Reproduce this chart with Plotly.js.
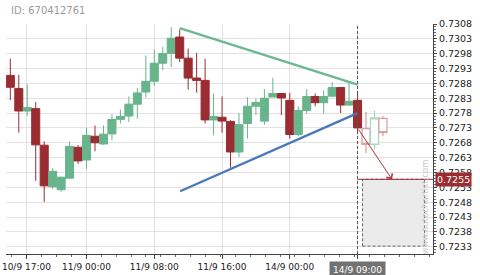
<!DOCTYPE html>
<html>
<head>
<meta charset="utf-8">
<script src="https://cdn.plot.ly/plotly-3.0.1.min.js"></script>
<style>
  html, body { margin: 0; padding: 0; background: #fff; }
  #chart { width: 480px; height: 275px; }
</style>
</head>
<body>
<div id="chart"></div>
<script>
// ---- data (hourly candles, index positions) ----
var candleOpen  = [0.72907,0.72863,0.72787,0.72795,0.72672,0.72532,0.72522,0.72561,0.72665,0.72622,
                   0.72702,0.72676,0.72710,0.72759,0.72770,0.72810,0.72851,0.72887,0.72948,0.72981,
                   0.73036,0.72965,0.72898,0.72890,0.72757,0.72766,0.72752,0.72649,0.72745,0.72803,
                   0.72753,0.72834,0.72846,0.72823,0.72708,0.72789,0.72836,0.72815,0.72837,0.72866,
                   0.72807,0.72823];
var candleHigh  = [0.72963,0.72909,0.72877,0.72817,0.72685,0.72595,0.72566,0.72685,0.72672,0.72730,
                   0.72738,0.72738,0.72776,0.72792,0.72836,0.72864,0.72974,0.72995,0.73003,0.73069,
                   0.73062,0.72997,0.72983,0.72963,0.72846,0.72836,0.72756,0.72780,0.72834,0.72829,
                   0.72861,0.72899,0.72846,0.72848,0.72803,0.72861,0.72846,0.72857,0.72884,0.72868,
                   0.72881,0.72854];
var candleLow   = [0.72823,0.72714,0.72770,0.72552,0.72481,0.72525,0.72515,0.72558,0.72609,0.72592,
                   0.72651,0.72673,0.72689,0.72745,0.72750,0.72761,0.72832,0.72871,0.72924,0.72935,
                   0.72952,0.72859,0.72849,0.72745,0.72705,0.72714,0.72596,0.72632,0.72694,0.72773,
                   0.72741,0.72834,0.72773,0.72694,0.72702,0.72778,0.72803,0.72778,0.72834,0.72780,
                   0.72807,0.72711];
var candleClose = [0.72867,0.72787,0.72799,0.72673,0.72535,0.72584,0.72564,0.72668,0.72619,0.72705,
                   0.72680,0.72709,0.72759,0.72769,0.72810,0.72848,0.72887,0.72948,0.72981,0.73032,
                   0.72965,0.72898,0.72890,0.72757,0.72769,0.72753,0.72649,0.72741,0.72803,0.72816,
                   0.72830,0.72846,0.72831,0.72708,0.72789,0.72836,0.72815,0.72836,0.72866,0.72807,
                   0.72820,0.72730];
// projected (faded) candles
var projOpen  = [0.72728,0.72675,0.72762];
var projHigh  = [0.72784,0.72789,0.72769];
var projLow   = [0.72646,0.72657,0.72702];
var projClose = [0.72675,0.72764,0.72714];

// trend lines [start, end] (bar index, price)
var resistanceX = [20, 41];
var resistanceY = [0.73066, 0.72876];
var supportX    = [20.05, 41];
var supportY    = [0.72517, 0.72780];

// forecast
var forecastFromX = 41,   forecastFromY = 0.72730;
var forecastToX   = 45.07, forecastToY  = 0.72557;
var targetPrice = 0.72557, targetLabel = "0.7255";
var targetBoxX = [41.59, 48.92];
var targetBoxY = [0.72332, 0.72557];
var nowIndex = 41;

// axes
var xTickVals = [1.9, 9, 17, 25, 33, 41];
var xTickText = ["10/9 17:00", "11/9 00:00", "11/9 08:00", "11/9 16:00", "14/9 00:00", "14/9 09:00"];
var yTickVals = [0.7233,0.7238,0.7243,0.7248,0.7253,0.7258,0.7263,0.7268,0.7273,0.7278,
                 0.7283,0.7288,0.7293,0.7298,0.7303,0.7308];
var xRange = [-0.51, 49.91];
var yRange = [0.723055, 0.7308];
var chartId = "ID: 670412761";
var watermark = "www.autochartist.com";

var RED = "#9b2c31", GREEN = "#68b48c";
var FONT = "DejaVu Sans, sans-serif";

var xs = candleOpen.map(function (_, i) { return i; });
var pxs = projOpen.map(function (_, i) { return candleOpen.length + i; });
var nowTick = xTickVals.indexOf(nowIndex);
// the "now" tick label is drawn as a highlighted annotation instead of plain axis text
var axisTickText = xTickText.map(function (t, i) { return i === nowTick ? "" : t; });

var traces = [
  {
    type: "candlestick", x: xs, open: candleOpen, high: candleHigh, low: candleLow, close: candleClose,
    increasing: { line: { color: GREEN, width: 1 }, fillcolor: GREEN },
    decreasing: { line: { color: RED, width: 1 }, fillcolor: RED },
    whiskerwidth: 0, hoverinfo: "skip", showlegend: false
  },
  {
    type: "candlestick", x: pxs, open: projOpen, high: projHigh, low: projLow, close: projClose,
    increasing: { line: { color: "#a9d9bf", width: 1.3 }, fillcolor: "#ffffff" },
    decreasing: { line: { color: "#dba2a4", width: 1.3 }, fillcolor: "#ffffff" },
    whiskerwidth: 0, hoverinfo: "skip", showlegend: false
  },
  {
    type: "scatter", mode: "lines", x: resistanceX, y: resistanceY,
    line: { color: "#6cb891", width: 2.3 }, hoverinfo: "skip", showlegend: false
  },
  {
    type: "scatter", mode: "lines", x: supportX, y: supportY,
    line: { color: "#4a78b8", width: 2.3 }, hoverinfo: "skip", showlegend: false
  }
];

var layout = {
  width: 480, height: 275,
  margin: { l: 6, r: 47, t: 24, b: 21, pad: 0 },
  paper_bgcolor: "#ffffff", plot_bgcolor: "#ffffff",
  showlegend: false,
  boxgap: 0.05, boxgroupgap: 0,
  font: { family: FONT, size: 9.5, color: "#222" },
  xaxis: {
    type: "linear", range: xRange, fixedrange: true,
    rangeslider: { visible: false },
    tickmode: "array", tickvals: xTickVals, ticktext: axisTickText,
    tickfont: { family: FONT, size: 9, color: "#222" },
    ticks: "outside", ticklen: 4, tickcolor: "#444", tickwidth: 1,
    showgrid: true, gridcolor: "#e2e2e2", gridwidth: 1,
    showline: true, linecolor: "#444", linewidth: 1,
    zeroline: false,
    minor: { ticks: "outside", ticklen: 2, tickcolor: "#666", tick0: 0.17, dtick: 1.76, showgrid: false }
  },
  yaxis: {
    side: "right", range: yRange, fixedrange: true,
    tickmode: "array", tickvals: yTickVals, tickformat: ".4f",
    tickfont: { family: FONT, size: 9.5, color: "#222" },
    ticks: "outside", ticklen: 3, tickcolor: "#444", tickwidth: 1,
    showgrid: true, gridcolor: "#e2e2e2", gridwidth: 1,
    showline: true, linecolor: "#444", linewidth: 1,
    zeroline: false,
    minor: { ticks: "outside", ticklen: 2, tickcolor: "#666", tick0: 0.7233, dtick: 0.0001, showgrid: false }
  },
  shapes: [
    { type: "rect", layer: "between", xref: "x", yref: "y",
      x0: targetBoxX[0], x1: targetBoxX[1], y0: targetBoxY[0], y1: targetBoxY[1],
      fillcolor: "#ebebeb", line: { color: "#666", width: 1, dash: "3px,2px" } },
    { type: "line", xref: "x", yref: "paper", x0: nowIndex, x1: nowIndex, y0: 0, y1: 1,
      line: { color: "#555", width: 1, dash: "3px,2px" } },
    { type: "line", xref: "x", yref: "y", x0: nowIndex, x1: xRange[1], y0: targetPrice, y1: targetPrice,
      line: { color: RED, width: 1 } }
  ],
  annotations: [
    { xref: "paper", yref: "paper", x: 0.007, y: 1, xanchor: "left", yanchor: "middle", yshift: 14,
      text: chartId, showarrow: false, font: { family: FONT, size: 10, color: "#9a9a9a" } },
    { xref: "x", yref: "y", x: forecastToX, y: forecastToY, axref: "x", ayref: "y",
      ax: forecastFromX, ay: forecastFromY, text: "", showarrow: true,
      arrowcolor: "#a8393c", arrowwidth: 1, arrowhead: 4, arrowsize: 1.4 },
    { xref: "x", yref: "y", x: 49.0, y: 0.72463, text: watermark, textangle: -90, showarrow: false,
      font: { family: FONT, size: 8.5, color: "#c9c9c9" } },
    { xref: "paper", yref: "y", x: 1, y: targetPrice, xanchor: "left", yanchor: "middle", xshift: 2,
      text: targetLabel, showarrow: false, bgcolor: RED, borderpad: 1,
      font: { family: FONT, size: 9.5, color: "#ffffff" } },
    { xref: "x", yref: "paper", x: xTickVals[nowTick], y: 0, xanchor: "center", yanchor: "top", yshift: -7,
      text: xTickText[nowTick], showarrow: false, bgcolor: "#727272", borderpad: 3,
      font: { family: FONT, size: 9, color: "#ffffff" } }
  ]
};

Plotly.newPlot("chart", traces, layout, { staticPlot: true, displayModeBar: false });
</script>
</body>
</html>
